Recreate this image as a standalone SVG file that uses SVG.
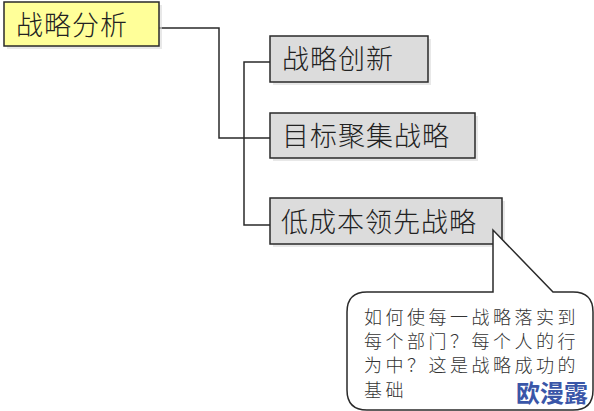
<svg xmlns="http://www.w3.org/2000/svg" width="594" height="411" viewBox="0 0 594 411">
<defs>
<style>
.box{stroke:#2a2a2a;stroke-width:1.5}
.shadow{fill:#d9d9d9;opacity:0.6}
.t{font-family:"Noto Sans CJK SC","Noto Sans CJK JP",sans-serif;font-size:27px;font-weight:300;fill:#222;letter-spacing:1px}
.c{font-family:"Noto Sans CJK SC","Noto Sans CJK JP",sans-serif;font-size:18px;font-weight:300;fill:#333;letter-spacing:3.5px}
.line{fill:none;stroke:#2a2a2a;stroke-width:1.5}
</style>
</defs>
<rect width="594" height="411" fill="#ffffff"/>
<g id="connectors">
<polyline class="line" points="159,28 219,28 219,138 270,138"/>
<polyline class="line" points="270,62 244,62 244,225 270,225"/>
</g>
<g id="node-analysis">
<rect class="shadow" x="7" y="5" width="155" height="44"/>
<rect class="box" x="4" y="2" width="155" height="44" fill="#ffff99"/>
<text class="t" x="16" y="35">战略分析</text>
</g>
<g id="node-innovation">
<rect class="shadow" x="273" y="39" width="158" height="46"/>
<rect class="box" x="270" y="36" width="158" height="46" fill="#dcdcdc"/>
<text class="t" x="282" y="69">战略创新</text>
</g>
<g id="node-focus">
<rect class="shadow" x="273" y="116" width="205" height="45"/>
<rect class="box" x="270" y="113" width="205" height="45" fill="#dcdcdc"/>
<text class="t" x="282" y="146">目标聚集战略</text>
</g>
<g id="node-cost">
<rect class="shadow" x="273" y="201" width="232" height="46"/>
<rect class="box" x="270" y="198" width="232" height="46" fill="#dcdcdc"/>
<text class="t" x="281" y="232">低成本领先战略</text>
</g>
<g id="callout">
<path d="M367,292 L493,292 L493,230 L553,292 L573,292 Q593,292 593,312 L593,390 Q593,410 573,410 L367,410 Q347,410 347,390 L347,312 Q347,292 367,292 Z" fill="#ffffff" stroke="#2a2a2a" stroke-width="1.5"/>
<text class="c" x="364" y="324">如何使每一战略落实到</text>
<text class="c" x="364" y="348">每个部门？每个人的行</text>
<text class="c" x="364" y="372">为中？这是战略成功的</text>
<text class="c" x="364" y="397">基础</text>
</g>
<text x="516" y="402" font-family="Noto Sans CJK SC,sans-serif" font-weight="bold" font-size="24" fill="#3a56a8">欧漫露</text>
</svg>
